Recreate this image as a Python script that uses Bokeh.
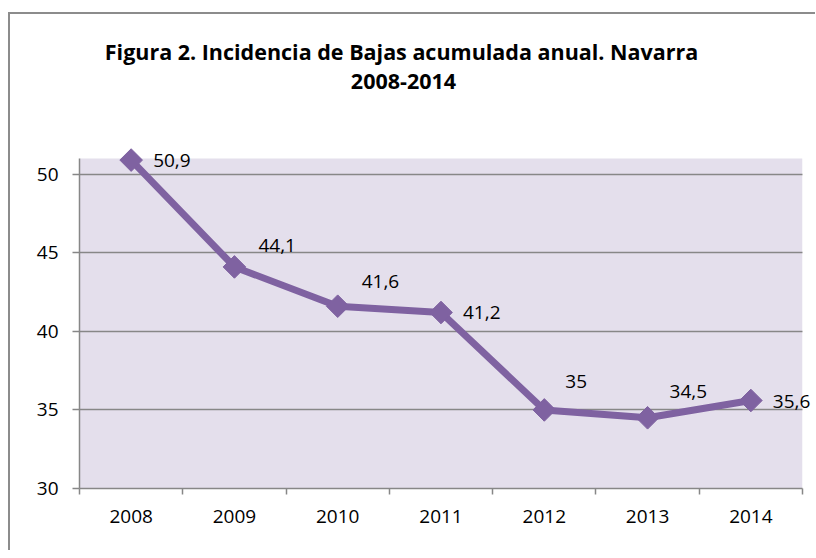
import math
from bokeh.plotting import figure
from bokeh.layouts import column
from bokeh.models import Range1d, FixedTicker, ColumnDataSource, Label, BoxAnnotation
from bokeh.core.properties import value
from bokeh.embed import file_html
from bokeh.resources import INLINE

# ---- data ----
years = [2008, 2009, 2010, 2011, 2012, 2013, 2014]
incidencia = [50.9, 44.1, 41.6, 41.2, 35.0, 34.5, 35.6]
y_ticks = [30, 35, 40, 45, 50]
y_axis_min, y_axis_max = 30, 51
title_line1 = "Figura 2. Incidencia de Bajas acumulada anual. Navarra"
title_line2 = "2008-2014"

# ---- layout / style ----
label_dx = [22, 24, 24, 22, 21, 22, 22]
label_dy = [0, -21, -25, 0, -28, -26, 1]

PURPLE = "#7F62A1"
LAVENDER = "#E4DFEC"
GRID = "#878787"
FONT = "Open Sans"

# page-pixel geometry of the plot area and of the (larger) drawing frame
PLOT_L, PLOT_R, PLOT_T, PLOT_B = 79, 802, 158, 488
FRAME_R, FRAME_T = 815, 20
CANVAS_X0, CANVAS_Y0 = 10, 14
W, H = 805, 536

x_lo, x_hi = years[0] - 0.5, years[-1] + 0.5
xppu = (PLOT_R - PLOT_L) / (x_hi - x_lo)
yppu = (PLOT_B - PLOT_T) / (y_axis_max - y_axis_min)
x_end = x_hi + (FRAME_R - PLOT_R) / xppu
y_end = y_axis_max + (PLOT_T - FRAME_T) / yppu

p = figure(width=W, height=H, title=None, tools="",
           x_range=Range1d(x_lo, x_end),
           y_range=Range1d(y_axis_min, y_end),
           output_backend="svg", toolbar_location=None,
           min_border_left=PLOT_L - CANVAS_X0, min_border_right=0,
           min_border_top=FRAME_T - CANVAS_Y0,
           min_border_bottom=CANVAS_Y0 + H - PLOT_B,
           background_fill_color="white", border_fill_color="white",
           outline_line_color=None)
p.toolbar.logo = None
p.toolbar.visible = False
p.styles = {"overflow": "hidden"}

# plot-area background (under the grid) and a white cover right of it
p.add_layout(BoxAnnotation(left=x_lo, right=x_hi, bottom=y_axis_min, top=y_axis_max,
                           fill_color=LAVENDER, fill_alpha=1, line_color=None,
                           level="image"))

# grid
p.xgrid.grid_line_color = None
p.ygrid.grid_line_color = GRID
p.ygrid.grid_line_width = 1.5

p.add_layout(BoxAnnotation(left=x_hi, fill_color="white", fill_alpha=1,
                           line_color=None, level="underlay"))

# x axis: labels at centres, ticks at boundaries (minor ticks)
bounds = [y - 0.5 for y in years] + [years[-1] + 0.5]
p.xaxis.ticker = FixedTicker(ticks=years, minor_ticks=bounds)
p.xaxis.bounds = (x_lo, x_hi)
p.xaxis.major_tick_out = 0
p.xaxis.major_tick_in = 0
p.xaxis.minor_tick_out = 6
p.xaxis.minor_tick_in = 0
p.xaxis.minor_tick_line_color = GRID
p.xaxis.minor_tick_line_width = 1.5
p.xaxis.major_label_standoff = 15

p.yaxis.ticker = FixedTicker(ticks=y_ticks, minor_ticks=[])
p.yaxis.bounds = (y_axis_min, y_axis_max)
p.yaxis.major_tick_out = 7
p.yaxis.major_tick_in = 0
p.yaxis.major_tick_line_color = GRID
p.yaxis.major_tick_line_width = 1.5
p.yaxis.minor_tick_line_color = None
p.yaxis.major_label_standoff = 14

for ax in (p.xaxis[0], p.yaxis[0]):
    ax.axis_line_color = GRID
    ax.axis_line_width = 1.5
    ax.major_label_text_font = FONT
    ax.major_label_text_font_size = "19px"
    ax.major_label_text_color = "#000000"

# series
p.line(years, incidencia, line_color=PURPLE, line_width=7, line_join="round")
p.scatter(years, incidencia, marker="square", size=16, angle=math.pi / 4,
          fill_color=PURPLE, line_color=PURPLE)

# data labels
src = ColumnDataSource(dict(
    x=years, y=incidencia,
    text=[f"{v:g}".replace(".", ",") for v in incidencia],
    dx=label_dx, dy=label_dy))
p.text(x="x", y="y", text="text", x_offset="dx", y_offset="dy", source=src,
       text_font=value(FONT), text_font_size="19px", text_color="#000000",
       text_align="left", text_baseline="middle")

# title (two centred lines), screen units relative to the frame's bottom-left
for txt, cx, base in ((title_line1, 401, 51), (title_line2, 403, 81)):
    p.add_layout(Label(x=cx - PLOT_L, y=PLOT_B - base,
                       x_units="screen", y_units="screen",
                       text=txt, text_font=FONT, text_font_style="bold",
                       text_font_size="21.5px", text_color="#000000",
                       text_align="center", text_baseline="alphabetic"))

page = column(p, styles={"margin-top": "12px", "margin-left": "8px",
                         "border-top": "2px solid #8c8c8c",
                         "border-left": "2px solid #8c8c8c",
                         "overflow": "hidden"})

open("out.html", "w").write(file_html(page, INLINE))
